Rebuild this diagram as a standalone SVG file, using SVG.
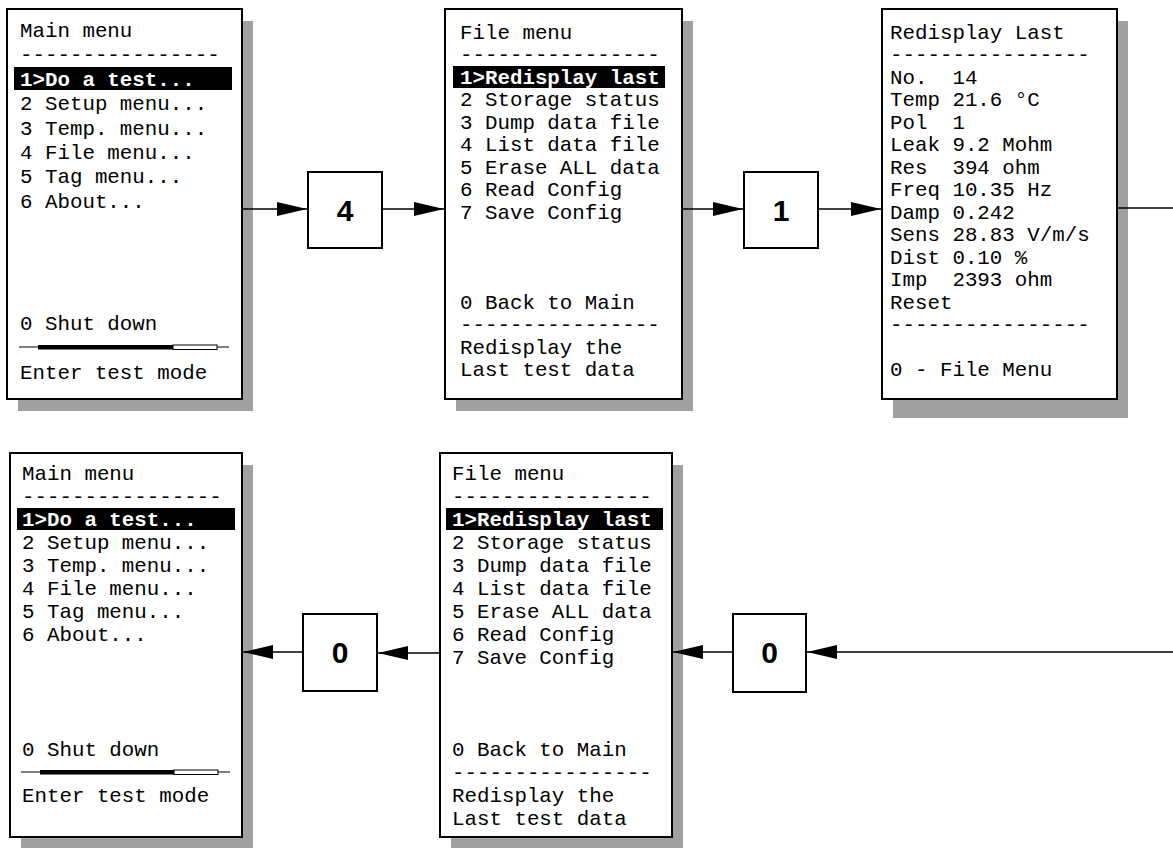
<svg xmlns="http://www.w3.org/2000/svg" width="1173" height="848" viewBox="0 0 1173 848">
<defs>
<style>
.t{font-family:"Liberation Mono","Courier New",monospace;font-size:20.8px;fill:#000;white-space:pre}
.hl{font-weight:bold;fill:#fff}
.box{fill:#fff;stroke:#000;stroke-width:2}
.sh{fill:#a0a0a0}
.bar{fill:#000}
.key{fill:#fff;stroke:#000;stroke-width:2}
.k{font-family:"Liberation Sans",Arial,sans-serif;font-size:30px;font-weight:bold;text-anchor:middle;fill:#000}
.c{fill:none;stroke:#000;stroke-width:1.6;marker-end:url(#ah)}
.pl{stroke:#000;stroke-width:1}
.pw{fill:#fff;stroke:#000;stroke-width:1}
</style>
<marker id="ah" markerUnits="userSpaceOnUse" markerWidth="30" markerHeight="14" refX="30" refY="7" orient="auto"><path d="M0,0 L30,7 L0,14 z" fill="#000"/></marker>
</defs>
<rect width="1173" height="848" fill="#fff"/>

<g id="main-menu-top">
<rect class="sh" x="18" y="21" width="235" height="390"/>
<rect class="box" x="7" y="9" width="235" height="390"/>
<rect class="bar" x="14" y="67" width="218" height="23"/>
<text class="t" x="20" y="37">Main menu</text>
<text class="t" x="20" y="61.4">----------------</text>
<text class="t hl" x="20" y="85.8">1&gt;Do a test...</text>
<text class="t" x="20" y="110.2">2 Setup menu...</text>
<text class="t" x="20" y="134.6">3 Temp. menu...</text>
<text class="t" x="20" y="159">4 File menu...</text>
<text class="t" x="20" y="183.4">5 Tag menu...</text>
<text class="t" x="20" y="207.8">6 About...</text>
<text class="t" x="20" y="329.8">0 Shut down</text>
<line class="pl" x1="19" y1="347" x2="229" y2="347"/>
<rect class="bar" x="38" y="345" width="135" height="4.5"/>
<rect class="pw" x="173" y="345" width="44" height="4.5"/>
<text class="t" x="20" y="378.6">Enter test mode</text>
</g>

<g id="file-menu-top">
<rect class="sh" x="456" y="21" width="237" height="390"/>
<rect class="box" x="445" y="9" width="237" height="390"/>
<rect class="bar" x="453" y="66" width="212" height="22"/>
<text class="t" x="460" y="38.5">File menu</text>
<text class="t" x="460" y="61">----------------</text>
<text class="t hl" x="460" y="83.5">1&gt;Redisplay last</text>
<text class="t" x="460" y="106">2 Storage status</text>
<text class="t" x="460" y="128.5">3 Dump data file</text>
<text class="t" x="460" y="151">4 List data file</text>
<text class="t" x="460" y="173.5">5 Erase ALL data</text>
<text class="t" x="460" y="196">6 Read Config</text>
<text class="t" x="460" y="218.5">7 Save Config</text>
<text class="t" x="460" y="308.5">0 Back to Main</text>
<text class="t" x="460" y="331">----------------</text>
<text class="t" x="460" y="353.5">Redisplay the</text>
<text class="t" x="460" y="376">Last test data</text>
</g>

<g id="redisplay-last">
<rect class="sh" x="893" y="21" width="235" height="397"/>
<rect class="box" x="882" y="9" width="235" height="390"/>
<text class="t" x="890" y="38.5">Redisplay Last</text>
<text class="t" x="890" y="61">----------------</text>
<text class="t" x="890" y="83.5">No.  14</text>
<text class="t" x="890" y="106">Temp 21.6 °C</text>
<text class="t" x="890" y="128.5">Pol  1</text>
<text class="t" x="890" y="151">Leak 9.2 Mohm</text>
<text class="t" x="890" y="173.5">Res  394 ohm</text>
<text class="t" x="890" y="196">Freq 10.35 Hz</text>
<text class="t" x="890" y="218.5">Damp 0.242</text>
<text class="t" x="890" y="241">Sens 28.83 V/m/s</text>
<text class="t" x="890" y="263.5">Dist 0.10 %</text>
<text class="t" x="890" y="286">Imp  2393 ohm</text>
<text class="t" x="890" y="308.5">Reset</text>
<text class="t" x="890" y="331">----------------</text>
<text class="t" x="890" y="376">0 - File Menu</text>
</g>

<g id="main-menu-bottom">
<rect class="sh" x="21" y="465" width="232" height="384"/>
<rect class="box" x="10" y="453" width="232" height="384"/>
<rect class="bar" x="17" y="508" width="218" height="22"/>
<text class="t" x="22" y="480">Main menu</text>
<text class="t" x="22" y="503">----------------</text>
<text class="t hl" x="22" y="526">1&gt;Do a test...</text>
<text class="t" x="22" y="549">2 Setup menu...</text>
<text class="t" x="22" y="572">3 Temp. menu...</text>
<text class="t" x="22" y="595">4 File menu...</text>
<text class="t" x="22" y="618">5 Tag menu...</text>
<text class="t" x="22" y="641">6 About...</text>
<text class="t" x="22" y="756">0 Shut down</text>
<line class="pl" x1="21" y1="772" x2="230" y2="772"/>
<rect class="bar" x="40" y="770" width="134" height="4.5"/>
<rect class="pw" x="174" y="770" width="44" height="4.5"/>
<text class="t" x="22" y="802">Enter test mode</text>
</g>

<g id="file-menu-bottom">
<rect class="sh" x="451" y="465" width="232" height="384"/>
<rect class="box" x="440" y="453" width="232" height="384"/>
<rect class="bar" x="446" y="508" width="217" height="22"/>
<text class="t" x="452" y="480">File menu</text>
<text class="t" x="452" y="503">----------------</text>
<text class="t hl" x="452" y="526">1&gt;Redisplay last</text>
<text class="t" x="452" y="549">2 Storage status</text>
<text class="t" x="452" y="572">3 Dump data file</text>
<text class="t" x="452" y="595">4 List data file</text>
<text class="t" x="452" y="618">5 Erase ALL data</text>
<text class="t" x="452" y="641">6 Read Config</text>
<text class="t" x="452" y="664">7 Save Config</text>
<text class="t" x="452" y="756">0 Back to Main</text>
<text class="t" x="452" y="779">----------------</text>
<text class="t" x="452" y="802">Redisplay the</text>
<text class="t" x="452" y="825">Last test data</text>
</g>

<g id="key-4">
<rect class="key" x="308" y="172" width="74" height="76"/>
<text class="k" x="345" y="221">4</text>
</g>
<g id="key-1">
<rect class="key" x="744" y="172" width="74" height="76"/>
<text class="k" x="781" y="221">1</text>
</g>
<g id="key-0-left">
<rect class="key" x="303" y="614" width="74" height="77"/>
<text class="k" x="340" y="663">0</text>
</g>
<g id="key-0-right">
<rect class="key" x="733" y="614" width="73" height="78"/>
<text class="k" x="769.5" y="663">0</text>
</g>

<g id="connectors">
<path class="c" d="M242,209 H307"/>
<path class="c" d="M382,209 H444"/>
<path class="c" d="M682,209 H743"/>
<path class="c" d="M818,209 H881"/>
<path class="c" d="M1117,208 H1180 V652 H807"/>
<path class="c" d="M733,652 H673"/>
<path class="c" d="M440,653 H378"/>
<path class="c" d="M303,652 H243"/>
</g>
</svg>
